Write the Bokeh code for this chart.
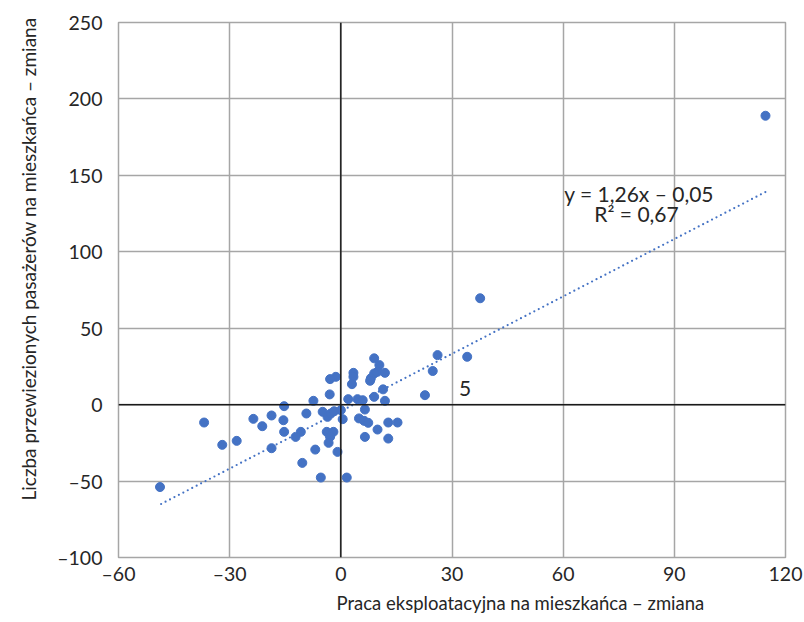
from bokeh.plotting import figure
from bokeh.models import FixedTicker, Span, Label, Range1d, Title
from bokeh.embed import file_html
from bokeh.resources import INLINE

# Data
x_vals = [9.0, 10.4, 9.9, 9.0, 8.1, 7.9, 11.9, 3.4, 3.4, 3.0, -1.35, -2.9, -3.0, 11.4, 9.0, 11.9,
          22.7, 24.8, 26.1, 2.0, 4.5, 5.9, 6.5, -7.4, -15.3, -15.5, -15.3, -9.3, -4.9, -3.6, -2.7,
          -1.8, 0.0, 0.5, 4.9, 6.3, 7.4, 9.9, 12.8, 15.3, 6.5, 12.8, -10.8, -12.2, -3.8, -2.0,
          -2.9, -3.3, -6.9, -0.9, -10.4, -5.4, 1.6, -36.9, -23.6, -18.7, -21.2, -28.1, -32.0,
          -18.7, -48.8, 37.6, 34.1, 114.6]
y_vals = [30.3, 25.9, 21.5, 20.4, 17.2, 15.6, 20.8, 20.8, 18.2, 13.4, 18.2, 16.7, 6.7, 10.0, 5.1, 2.5,
          6.2, 22.0, 32.4, 3.6, 3.6, 2.9, -3.2, 2.5, -1.0, -10.2, -17.8, -5.8, -4.7, -8.0, -5.8,
          -4.3, -3.6, -9.5, -9.0, -10.6, -11.9, -16.3, -11.7, -11.7, -21.1, -22.2, -17.8, -21.1,
          -17.8, -17.8, -21.1, -25.0, -29.4, -30.9, -38.1, -47.7, -47.7, -11.7, -9.3, -7.1,
          -14.1, -23.7, -26.3, -28.5, -53.9, 69.6, 31.3, 189.0]

trend_x = [-48.5, 115.3]
trend_y = [-65.0, 140.0]

x_ticks = [-60, -30, 0, 30, 60, 90, 120]
x_tick_labels = ["–60", "–30", "0", "30", "60", "90", "120"]
y_ticks = [-100, -50, 0, 50, 100, 150, 200, 250]
y_tick_labels = ["–100", "–50", "0", "50", "100", "150", "200", "250"]

x_title = "Praca eksploatacyjna na mieszkańca – zmiana"
y_title = "Liczba przewiezionych pasażerów na mieszkańca – zmiana"
equation_text = "y = 1,26x – 0,05"
r2_text = "R² = 0,67"
point_label = "5"

FONT = "Lato"
GRID = "#a6a6a6"
BLUE = "#4472c4"
TXT = "#262626"

p = figure(width=804, height=622, output_backend="svg", toolbar_location=None,
           x_range=Range1d(-60, 120), y_range=Range1d(-100, 250),
           min_border_left=118, min_border_right=19, min_border_top=22, min_border_bottom=65)

p.background_fill_color = "white"
p.border_fill_color = "white"
p.outline_line_color = GRID
p.outline_line_width = 1.5

for ax in (p.xaxis[0], p.yaxis[0]):
    ax.axis_line_color = None
    ax.major_tick_line_color = None
    ax.minor_tick_line_color = None
    ax.major_label_text_font = FONT
    ax.major_label_text_font_size = "19.5px"
    ax.major_label_text_color = TXT

p.xaxis.ticker = FixedTicker(ticks=x_ticks)
p.yaxis.ticker = FixedTicker(ticks=y_ticks)
p.xaxis.major_label_overrides = {t: l for t, l in zip(x_ticks, x_tick_labels)}
p.yaxis.major_label_overrides = {t: l for t, l in zip(y_ticks, y_tick_labels)}
p.xaxis.major_tick_out = 0
p.xaxis.minor_tick_out = 0
p.xaxis.major_label_standoff = 4
p.yaxis.major_label_standoff = 10

p.xgrid.ticker = FixedTicker(ticks=x_ticks)
p.ygrid.ticker = FixedTicker(ticks=y_ticks)
p.grid.grid_line_color = GRID
p.grid.grid_line_width = 1.5

p.add_layout(Span(location=0, dimension="height", line_color="#1a1a1a", line_width=1.5))
p.add_layout(Span(location=0, dimension="width", line_color="#1a1a1a", line_width=1.5))

p.line(trend_x, trend_y, line_color=BLUE, line_width=2.2, line_dash="0 5", line_cap="round")
p.scatter(x_vals, y_vals, size=9, fill_color=BLUE, line_color=BLUE)

# axis titles, offset like in the reference
p.add_layout(Title(text=x_title, align="left", offset=218, standoff=4, text_font=FONT,
                   text_font_size="18.5px", text_font_style="normal", text_color=TXT), "below")
p.add_layout(Title(text=y_title, align="left", offset=57, standoff=29, text_font=FONT,
                   text_font_size="19px", text_font_style="normal", text_color=TXT), "left")

p.add_layout(Label(x=60.3, y=137.9, text=equation_text, text_font=FONT, text_font_size="21px",
                   text_color=TXT, text_baseline="middle", text_align="left"))
p.add_layout(Label(x=68.4, y=124.8, text=r2_text, text_font=FONT, text_font_size="21px",
                   text_color=TXT, text_baseline="middle", text_align="left"))
p.add_layout(Label(x=33.5, y=10.8, text=point_label, text_font=FONT, text_font_size="21px",
                   text_color=TXT, text_baseline="middle", text_align="center"))

open("out.html", "w").write(file_html(p, INLINE))
